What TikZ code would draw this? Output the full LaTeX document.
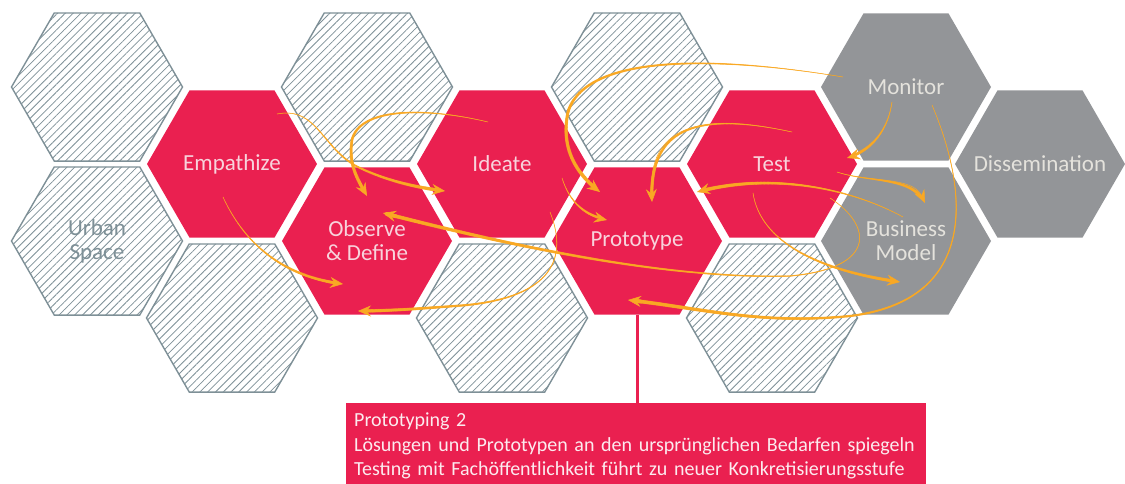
\documentclass[tikz,border=0pt]{standalone}
\usepackage{fontspec}
\setmainfont{Carlito}
\usetikzlibrary{shapes.geometric,patterns.meta,arrows.meta,decorations.markings}

\definecolor{hexred}{HTML}{EA2050}
\definecolor{hexgrey}{HTML}{939598}
\definecolor{hatch}{HTML}{7E9097}
\definecolor{flowc}{HTML}{F9A823}
\definecolor{redtext}{HTML}{F8D3DC}
\definecolor{greytext}{HTML}{E4E2DC}
\definecolor{boxtext}{HTML}{FCEBEF}

\tikzset{
	hex/.style={regular polygon, regular polygon sides=6, minimum size=170pt, inner sep=0pt, outer sep=0pt},
	redhex/.style={hex, fill=hexred},
	greyhex/.style={hex, fill=hexgrey},
	hatchhex/.style={hex, minimum size=171pt, draw=hatch, line width=1.4pt, pattern={Lines[angle=45,distance=5.5pt,line width=0.8pt]}, pattern color=hatch},
	hexlabel/.style={align=center, inner sep=0pt, font=\fontsize{23}{24}\selectfont},
	redlabel/.style={hexlabel, text=redtext},
	greylabel/.style={hexlabel, text=greytext},
	hatchlabel/.style={hexlabel, text=hatch},
	flow/.style={draw=flowc, line width=0.5pt, -{Stealth[length=13pt,width=11pt,inset=4.5pt]},
		postaction={decorate, decoration={markings,
			mark=between positions 0 and -9pt step 0.8pt with {%
				\pgfmathsetmacro\brushr{0.25+#1*\pgfkeysvalueof{/pgf/decoration/mark info/distance from start}/\pgfdecoratedpathlength}%
				\fill[flowc] (0,0) circle[radius=\brushr pt];}}}},
	flow/.default=1.6,
	callout/.style={draw=hexred, line width=3pt},
	notebox/.style={fill=hexred, text=boxtext, align=left, text width=564pt, inner xsep=8pt, inner ysep=5pt, minimum height=86pt, font=\fontsize{20}{24.5}\selectfont}
}

\begin{document}
\begin{tikzpicture}[x=1pt, y=-1pt]
	\useasboundingbox (0,0) rectangle (1125,483);
	% honeycomb
	\node[hatchhex] (h00) at (97,87) {};
	\node[hatchhex, label={[hatchlabel]center:Urban\\Space}] (urb) at (97,241) {};
	\node[redhex, label={[redlabel]center:Empathize}] (emp) at (232,164) {};
	\node[hatchhex] (h11) at (232,318) {};
	\node[hatchhex] (h20) at (367,87) {};
	\node[redhex, label={[redlabel]center:Observe\\\& Define}] (obs) at (367,241) {};
	\node[redhex, label={[redlabel]center:Ideate}] (ide) at (502,164) {};
	\node[hatchhex] (h31) at (502,318) {};
	\node[hatchhex] (h40) at (637,87) {};
	\node[redhex, label={[redlabel]center:Prototype}] (pro) at (637,241) {};
	\node[redhex, label={[redlabel]center:Test}] (tes) at (772,164) {};
	\node[hatchhex] (h51) at (772,318) {};
	\node[greyhex, label={[greylabel]center:Monitor}] (mon) at (906,87) {};
	\node[greyhex, label={[greylabel]center:Business\\Model}] (bus) at (906,241) {};
	\node[greyhex, label={[greylabel]center:Dissemination}] (dis) at (1040,164) {};

	% callout
	\node[notebox, anchor=north west] (note) at (346,403) {Prototyping 2\\L\"osungen und Prototypen an den urspr\"unglichen Bedarfen spiegeln\\Testing mit Fach\"offentlichkeit f\"uhrt zu neuer Konkretisierungsstufe};
	\draw[callout] (pro.south) -- (pro.south |- note.north);

	% flows
	\draw[flow=1.7] ([shift={(45,-50)}]emp.center) .. controls (318,106) and (322,150) .. (360,168) .. controls (390,182) and (420,188) .. ([shift={(-57,27)}]ide.center);
	\draw[flow=1.7] ([shift={(-14,-42)}]ide.center) .. controls (430,108) and (360,106) .. (352,140) .. controls (348,165) and (358,180) .. ([shift={(0,-45)}]obs.center);
	\draw[flow=1.5] ([shift={(-9,33)}]emp.center) .. controls (245,245) and (285,277) .. ([shift={(-24,43)}]obs.center);
	\draw[flow=1.8] ([shift={(58,34)}]tes.center) .. controls (872,225) and (878,268) .. (790,276) .. controls (650,280) and (470,235) .. ([shift={(16,-28)}]obs.center);
	\draw[flow=1.6] ([shift={(48,48)}]ide.center) .. controls (570,262) and (548,300) .. (455,306) .. controls (415,309) and (385,311) .. ([shift={(-9,70)}]obs.center);
	\draw[flow=1.8] ([shift={(-63,-10)}]mon.center) .. controls (710,55) and (585,55) .. (568,112) .. controls (560,150) and (578,175) .. ([shift={(-37,-49)}]pro.center);
	\draw[flow=1.6] ([shift={(20,-32)}]tes.center) .. controls (700,112) and (648,125) .. ([shift={(15,-39)}]pro.center);
	\draw[flow=1.4] ([shift={(60,14)}]ide.center) .. controls (570,203) and (585,215) .. ([shift={(-30,-21)}]pro.center);
	\draw[flow=1.8] ([shift={(-3,-24)}]bus.center) .. controls (850,188) and (770,172) .. ([shift={(60,-49)}]pro.center);
	\draw[flow=1.8] ([shift={(26,18)}]mon.center) .. controls (968,190) and (980,300) .. (850,316) .. controls (760,325) and (700,308) .. ([shift={(-9,59)}]pro.center);
	\draw[flow=1.6] ([shift={(-14,15)}]mon.center) .. controls (888,130) and (872,150) .. ([shift={(75,-6)}]tes.center);
	\draw[flow=1.6] ([shift={(65,8)}]tes.center) .. controls (870,183) and (912,176) .. ([shift={(19,-38)}]bus.center);
	\draw[flow=1.6] ([shift={(-19,29)}]tes.center) .. controls (760,240) and (815,270) .. ([shift={(-6,41)}]bus.center);
\end{tikzpicture}
\end{document}
